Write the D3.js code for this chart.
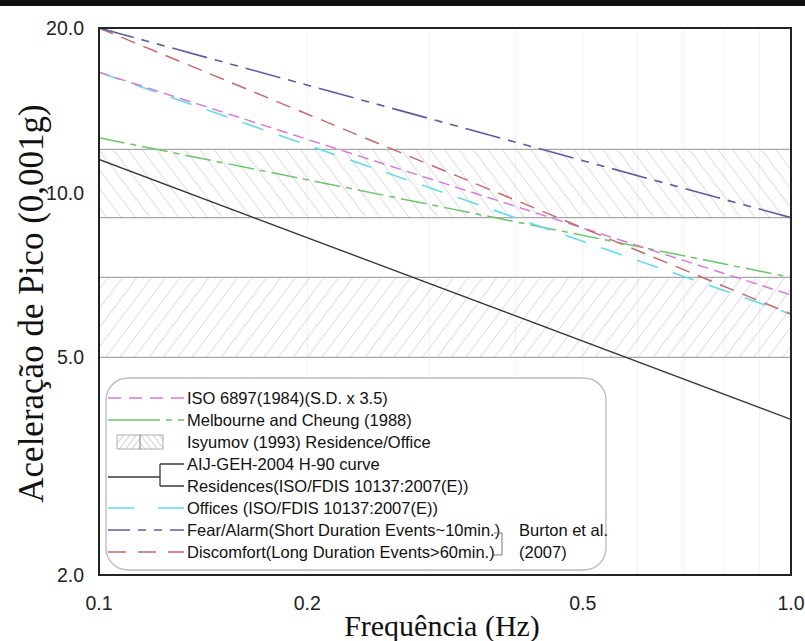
<!DOCTYPE html>
<html><head><meta charset="utf-8">
<script src="https://cdn.jsdelivr.net/npm/d3@7"></script>
<style>body{margin:0;background:#fff}</style>
</head><body>
<svg id="c" width="805" height="641"></svg>
<script>
// ---- data ----
const xTicks = [0.1, 0.2, 0.5, 1.0];
const xTickLabels = ["0.1", "0.2", "0.5", "1.0"];
const yTicks = [2, 5, 10, 20];
const yTickLabels = ["2.0", "5.0", "10.0", "20.0"];
const minorX = [0.2, 0.3, 0.4, 0.5, 0.6, 0.7, 0.8, 0.9];
const freq = [0.1, 1.0];
const iso6897 = [16.6, 6.5];
const melbourne = [12.6, 7.0];
const aij = [11.5, 3.85];
const offices = [16.6, 6.0];
const fear = [20.0, 9.0];
const discomfort = [20.0, 6.0];
const bandUpper = [9, 12];
const bandLower = [5, 7];
const legendLabels = [
  "ISO 6897(1984)(S.D. x 3.5)",
  "Melbourne and Cheung (1988)",
  "Isyumov (1993) Residence/Office",
  "AIJ-GEH-2004 H-90 curve",
  "Residences(ISO/FDIS 10137:2007(E))",
  "Offices (ISO/FDIS 10137:2007(E))",
  "Fear/Alarm(Short Duration Events~10min.)",
  "Discomfort(Long Duration Events>60min.)"
];
const burtonLabels = ["Burton et al.", "(2007)"];

// ---- layout ----
const W = 805, H = 641;
const m = {l: 99, r: 14, t: 28, b: 66};
const pw = W - m.l - m.r, ph = H - m.t - m.b;
const svg = d3.select("#c");
svg.append("rect").attr("width", W).attr("height", H).attr("fill", "#fff");
svg.append("rect").attr("x", 0).attr("y", 0).attr("width", W).attr("height", 6).attr("fill", "#111");

const x = d3.scaleLog().domain([0.1, 1.0]).range([m.l, m.l + pw]);
const y = d3.scaleLog().domain([2, 20]).range([m.t + ph, m.t]);

const defs = svg.append("defs");
defs.append("clipPath").attr("id", "clip").append("rect")
  .attr("x", m.l).attr("y", m.t).attr("width", pw).attr("height", ph);
function hatch(id, ang, sp, col) {
  const p = defs.append("pattern").attr("id", id).attr("patternUnits", "userSpaceOnUse")
    .attr("width", sp).attr("height", sp).attr("patternTransform", `rotate(${ang})`);
  p.append("line").attr("x1", 0).attr("y1", -1).attr("x2", 0).attr("y2", sp + 1)
    .attr("stroke", col).attr("stroke-width", 1.1);
}
hatch("hBack", -37, 11.5, "#c2c2c2");
hatch("hFwd", 37, 11.5, "#c2c2c2");
hatch("sBack", -37, 5, "#aaa");
hatch("sFwd", 37, 5, "#aaa");

const g = svg.append("g").attr("clip-path", "url(#clip)");
g.selectAll(".vg").data(minorX).join("line")
  .attr("x1", d => x(d)).attr("x2", d => x(d)).attr("y1", m.t).attr("y2", m.t + ph)
  .attr("stroke", "#f1f1f1").attr("stroke-width", 1);

[[bandUpper, "hBack"], [bandLower, "hFwd"]].forEach(([b, pat]) => {
  g.append("rect").attr("x", m.l).attr("width", pw)
    .attr("y", y(b[1])).attr("height", y(b[0]) - y(b[1]))
    .attr("fill", `url(#${pat})`);
  b.forEach(v => g.append("line").attr("x1", m.l).attr("x2", m.l + pw)
    .attr("y1", y(v)).attr("y2", y(v)).attr("stroke", "#a8a8a8").attr("stroke-width", 1.2));
});

const line = d3.line().x(d => x(d[0])).y(d => y(d[1]));
const series = [
  {v: aij, c: "#3a3a3a", dash: null, w: 1.4},
  {v: melbourne, c: "#6cc46c", dash: "26,6,6,6", w: 1.5},
  {v: offices, c: "#66dbe8", dash: "22,16", w: 1.6},
  {v: iso6897, c: "#d77cd4", dash: "11,6", w: 1.5},
  {v: discomfort, c: "#c46a6a", dash: "15,9", w: 1.5},
  {v: fear, c: "#5c5c9e", dash: "36,8,8,8,8,8", w: 1.6}
];
series.forEach(s => {
  g.append("path").datum(d3.zip(freq, s.v)).attr("d", line)
    .attr("fill", "none").attr("stroke", s.c).attr("stroke-width", s.w)
    .attr("stroke-dasharray", s.dash);
});

svg.append("rect").attr("x", m.l).attr("y", m.t).attr("width", pw).attr("height", ph)
  .attr("fill", "none").attr("stroke", "#222").attr("stroke-width", 2);

svg.selectAll(".yt").data(yTicks).join("text")
  .attr("x", 84).attr("y", d => y(d)).attr("dy", "0.36em").attr("text-anchor", "end")
  .attr("font-family", "Liberation Sans, Arial, sans-serif").attr("font-size", 19.5).attr("fill", "#222")
  .text((d, i) => yTickLabels[i]);
svg.selectAll(".xt").data(xTicks).join("text")
  .attr("x", d => x(d)).attr("y", 610).attr("text-anchor", "middle")
  .attr("font-family", "Liberation Sans, Arial, sans-serif").attr("font-size", 19.5).attr("fill", "#222")
  .text((d, i) => xTickLabels[i]);

svg.append("text").attr("x", m.l + pw / 2 - 3).attr("y", 636).attr("text-anchor", "middle")
  .attr("font-family", "Liberation Serif, Times New Roman, serif").attr("font-size", 30).attr("fill", "#111")
  .text("Frequência (Hz)");
svg.append("text").attr("transform", `translate(43,${m.t + ph / 2 + 2}) rotate(-90)`)
  .attr("text-anchor", "middle")
  .attr("font-family", "Liberation Serif, Times New Roman, serif").attr("font-size", 35).attr("fill", "#111")
  .text("Aceleração de Pico (0,001g)");

const L = {x: 106, y: 378, w: 500, h: 192, r: 22};
svg.append("rect").attr("x", L.x).attr("y", L.y).attr("width", L.w).attr("height", L.h)
  .attr("rx", L.r).attr("fill", "#fff").attr("stroke", "#bbb").attr("stroke-width", 1.3);
const rowY = i => L.y + 20 + i * 22;
const sx0 = 108, sx1 = 184, tx = 187;
const lg = svg.append("g");
function swLine(i, s) {
  lg.append("line").attr("x1", sx0).attr("x2", sx1).attr("y1", rowY(i)).attr("y2", rowY(i))
    .attr("stroke", s.c).attr("stroke-width", s.w).attr("stroke-dasharray", s.dash);
}
swLine(0, {c: "#d77cd4", w: 1.5, dash: "13,8"});
swLine(1, {c: "#6cc46c", w: 1.5, dash: "52,6,6,6"});
lg.append("rect").attr("x", 117).attr("y", rowY(2) - 7).attr("width", 23).attr("height", 14)
  .attr("fill", "url(#sFwd)").attr("stroke", "#999").attr("stroke-width", 0.8);
lg.append("rect").attr("x", 140).attr("y", rowY(2) - 7).attr("width", 23).attr("height", 14)
  .attr("fill", "url(#sBack)").attr("stroke", "#999").attr("stroke-width", 0.8);
const bm = (rowY(3) + rowY(4)) / 2 + 2;
lg.append("path").attr("d", `M${sx0},${bm}H160M160,${rowY(3)}V${rowY(4)}M160,${rowY(3)}H${sx1}M160,${rowY(4)}H${sx1}`)
  .attr("fill", "none").attr("stroke", "#3a3a3a").attr("stroke-width", 1.3);
swLine(5, {c: "#66dbe8", w: 1.6, dash: "26,24"});
swLine(6, {c: "#5c5c9e", w: 1.6, dash: "22,8,8,8,8,8"});
swLine(7, {c: "#c46a6a", w: 1.5, dash: "18,12"});
legendLabels.forEach((t, i) => {
  lg.append("text").attr("x", tx).attr("y", rowY(i)).attr("dy", "0.36em")
    .attr("font-family", "Liberation Sans, Arial, sans-serif").attr("font-size", 16.5).attr("fill", "#111")
    .text(t);
});
const bx = 502;
lg.append("path").attr("d", `M${bx - 8},${rowY(6) + 3}H${bx}V${rowY(7) + 3}H${bx - 8}`)
  .attr("fill", "none").attr("stroke", "#777").attr("stroke-width", 1);
burtonLabels.forEach((t, i) => {
  lg.append("text").attr("x", 519).attr("y", rowY(6 + i)).attr("dy", "0.36em")
    .attr("font-family", "Liberation Sans, Arial, sans-serif").attr("font-size", 16.5).attr("fill", "#111")
    .text(t);
});
</script>
</body></html>
